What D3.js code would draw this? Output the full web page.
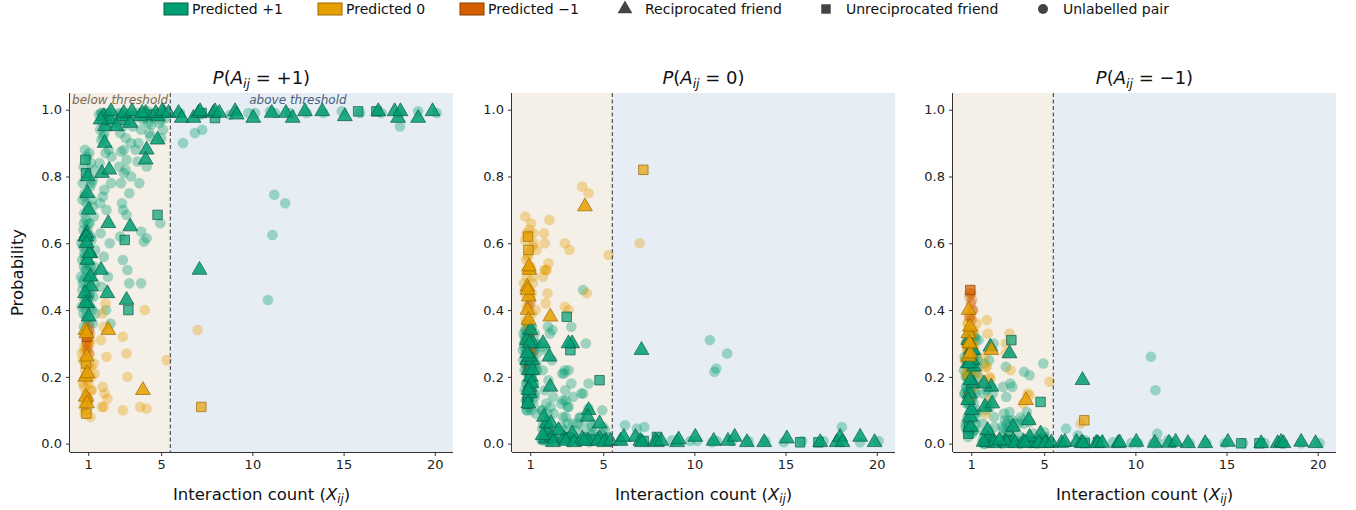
<!DOCTYPE html>
<html>
<head>
<meta charset="utf-8" />
<title>Predicted sign probabilities</title>
<script src="https://d3js.org/d3.v7.min.js"></script>
<style>
  body { margin: 0; background: #fff; }
  svg { font-family: "DejaVu Sans", sans-serif; display: block; }
</style>
</head>
<body>
<svg id="chart" width="1356" height="510"></svg>
<script>
// each pair: [interaction count (jittered), P(+1), P(0), P(-1), kind]
// kind: R = reciprocated friend, U = unreciprocated friend, N = unlabelled pair
var colOneGreen = [
  [0.82, 0.88, 0.10, 0.02, "N"], [1.05, 0.87, 0.10, 0.03, "N"], [0.93, 0.86, 0.11, 0.03, "N"],
  [0.84, 0.85, 0.12, 0.03, "U"], [1.15, 0.84, 0.12, 0.04, "N"], [0.75, 0.83, 0.13, 0.04, "N"],
  [0.88, 0.81, 0.14, 0.05, "U"], [0.97, 0.80, 0.15, 0.05, "R"], [1.25, 0.79, 0.15, 0.06, "N"],
  [0.70, 0.78, 0.16, 0.06, "N"], [1.10, 0.77, 0.16, 0.07, "N"], [0.95, 0.75, 0.17, 0.08, "R"],
  [0.80, 0.74, 0.18, 0.08, "N"], [1.20, 0.73, 0.18, 0.09, "N"], [0.90, 0.72, 0.19, 0.09, "N"],
  [1.02, 0.70, 0.20, 0.10, "R"], [0.78, 0.69, 0.18, 0.13, "N"], [1.30, 0.68, 0.22, 0.10, "N"],
  [0.86, 0.67, 0.21, 0.12, "N"], [1.08, 0.66, 0.20, 0.14, "N"], [0.74, 0.64, 0.24, 0.12, "N"],
  [0.92, 0.63, 0.22, 0.15, "R"], [0.83, 0.62, 0.25, 0.13, "R"], [1.18, 0.61, 0.23, 0.16, "N"],
  [0.98, 0.60, 0.26, 0.14, "N"], [0.72, 0.59, 0.24, 0.17, "N"], [0.88, 0.58, 0.27, 0.15, "N"],
  [1.12, 0.57, 0.25, 0.18, "R"], [0.80, 0.56, 0.28, 0.16, "N"], [0.95, 0.55, 0.26, 0.19, "R"],
  [1.04, 0.54, 0.29, 0.17, "N"], [0.76, 0.53, 0.27, 0.20, "N"], [0.90, 0.52, 0.30, 0.18, "N"],
  [1.22, 0.51, 0.28, 0.21, "N"], [0.85, 0.50, 0.31, 0.19, "N"], [1.00, 0.49, 0.29, 0.22, "N"],
  [0.70, 0.48, 0.32, 0.20, "N"], [1.15, 0.47, 0.30, 0.23, "R"], [0.93, 0.46, 0.33, 0.21, "N"],
  [0.82, 0.45, 0.31, 0.24, "R"], [1.06, 0.44, 0.34, 0.22, "N"], [0.78, 0.43, 0.32, 0.25, "N"],
  [0.97, 0.42, 0.30, 0.28, "R"], [1.10, 0.41, 0.35, 0.24, "N"], [0.87, 0.40, 0.33, 0.27, "N"],
  [0.74, 0.39, 0.31, 0.30, "N"], [1.02, 0.38, 0.34, 0.28, "R"], [0.91, 0.37, 0.32, 0.31, "N"],
  [1.25, 0.36, 0.33, 0.31, "N"], [0.84, 0.42, 0.27, 0.31, "R"], [1.13, 0.53, 0.15, 0.32, "N"],
  [0.89, 0.62, 0.12, 0.26, "R"], [0.99, 0.70, 0.12, 0.18, "N"], [0.81, 0.75, 0.10, 0.15, "N"],
  [1.07, 0.57, 0.18, 0.25, "R"], [0.94, 0.46, 0.20, 0.34, "N"], [0.76, 0.66, 0.27, 0.07, "N"],
  [1.18, 0.78, 0.18, 0.04, "N"], [0.86, 0.52, 0.36, 0.12, "N"], [1.03, 0.44, 0.24, 0.32, "N"],
  [0.62, 0.60, 0.25, 0.15, "N"], [1.38, 0.58, 0.22, 0.20, "N"], [0.66, 0.55, 0.30, 0.15, "N"],
  [1.33, 0.53, 0.24, 0.23, "N"], [0.60, 0.50, 0.28, 0.22, "N"], [1.36, 0.48, 0.27, 0.25, "N"],
  [0.68, 0.46, 0.29, 0.25, "N"], [1.28, 0.44, 0.30, 0.26, "N"], [0.64, 0.41, 0.33, 0.26, "N"],
  [1.40, 0.39, 0.30, 0.31, "N"], [0.96, 0.64, 0.20, 0.16, "N"], [1.14, 0.62, 0.26, 0.12, "N"],
  [0.79, 0.57, 0.22, 0.21, "N"], [1.01, 0.56, 0.31, 0.13, "N"], [0.87, 0.54, 0.23, 0.23, "N"],
  [1.16, 0.50, 0.24, 0.26, "N"], [0.73, 0.49, 0.34, 0.17, "N"], [0.94, 0.47, 0.25, 0.28, "N"],
  [1.09, 0.45, 0.28, 0.27, "N"], [0.83, 0.44, 0.36, 0.20, "N"], [1.21, 0.40, 0.28, 0.32, "N"],
  [0.89, 0.38, 0.30, 0.32, "N"], [1.05, 0.36, 0.35, 0.29, "N"], [0.77, 0.35, 0.34, 0.31, "N"],
  [0.99, 0.66, 0.24, 0.10, "N"], [1.24, 0.71, 0.14, 0.15, "N"], [0.69, 0.73, 0.22, 0.05, "N"],
  [1.31, 0.82, 0.09, 0.09, "N"], [0.91, 0.60, 0.16, 0.24, "R"], [1.12, 0.50, 0.22, 0.28, "R"]
];

var colOneOther = [
  [0.85, 0.34, 0.40, 0.26, "R"], [0.92, 0.26, 0.44, 0.30, "R"], [0.84, 0.20, 0.47, 0.33, "R"],
  [0.95, 0.21, 0.52, 0.27, "R"], [0.86, 0.14, 0.46, 0.40, "R"], [0.93, 0.12, 0.53, 0.35, "R"],
  [0.88, 0.24, 0.62, 0.14, "U"], [0.90, 0.09, 0.58, 0.33, "U"],
  [0.75, 0.33, 0.37, 0.30, "N"], [1.10, 0.31, 0.39, 0.30, "N"], [0.80, 0.29, 0.41, 0.30, "N"],
  [1.02, 0.27, 0.43, 0.30, "N"], [0.70, 0.25, 0.45, 0.30, "N"], [1.15, 0.23, 0.48, 0.29, "N"],
  [0.82, 0.22, 0.50, 0.28, "N"], [0.97, 0.19, 0.53, 0.28, "N"], [0.78, 0.17, 0.55, 0.28, "N"],
  [1.20, 0.16, 0.60, 0.24, "N"], [0.88, 0.15, 0.62, 0.23, "N"], [1.05, 0.13, 0.66, 0.21, "N"],
  [0.73, 0.11, 0.68, 0.21, "N"], [0.94, 0.10, 0.64, 0.26, "N"], [1.12, 0.08, 0.59, 0.33, "N"],
  [0.84, 0.12, 0.52, 0.36, "N"], [0.99, 0.18, 0.44, 0.38, "N"], [0.79, 0.28, 0.36, 0.36, "N"],
  [1.08, 0.30, 0.45, 0.25, "N"], [0.91, 0.14, 0.57, 0.29, "N"], [1.17, 0.20, 0.63, 0.17, "N"],
  [0.86, 0.24, 0.56, 0.20, "N"], [0.65, 0.27, 0.48, 0.25, "N"], [1.35, 0.21, 0.58, 0.21, "N"],
  [0.71, 0.18, 0.61, 0.21, "N"], [1.30, 0.24, 0.40, 0.36, "N"], [0.96, 0.30, 0.37, 0.33, "N"],
  [1.14, 0.16, 0.50, 0.34, "N"], [0.81, 0.09, 0.63, 0.28, "N"], [1.01, 0.23, 0.53, 0.24, "N"],
  [0.90, 0.33, 0.37, 0.30, "R"],
  [0.95, 0.32, 0.22, 0.46, "U"], [1.05, 0.34, 0.23, 0.43, "N"], [0.90, 0.30, 0.26, 0.44, "N"],
  [1.10, 0.33, 0.27, 0.40, "N"], [0.98, 0.29, 0.29, 0.42, "N"], [0.87, 0.31, 0.31, 0.38, "N"],
  [1.03, 0.35, 0.28, 0.37, "N"], [0.93, 0.28, 0.34, 0.38, "N"], [1.00, 0.13, 0.42, 0.45, "N"],
  [0.92, 0.14, 0.41, 0.45, "N"], [1.07, 0.27, 0.33, 0.40, "N"]
];

var colTwo = [
  [1.70, 0.99, 0.01, 0.00, "N"], [1.85, 0.98, 0.015, 0.005, "R"], [2.00, 0.97, 0.02, 0.01, "N"],
  [2.15, 0.99, 0.008, 0.002, "N"], [1.78, 0.96, 0.03, 0.01, "N"], [1.92, 0.95, 0.035, 0.015, "R"],
  [2.05, 0.98, 0.015, 0.005, "N"], [1.65, 0.94, 0.045, 0.015, "N"], [2.20, 0.97, 0.02, 0.01, "R"],
  [1.88, 0.93, 0.05, 0.02, "N"], [1.75, 0.99, 0.01, 0.00, "N"], [2.10, 0.96, 0.03, 0.01, "N"],
  [1.90, 0.90, 0.06, 0.04, "R"], [1.75, 0.81, 0.08, 0.11, "R"], [2.10, 0.66, 0.17, 0.17, "R"],
  [1.70, 0.52, 0.30, 0.18, "R"], [2.05, 0.45, 0.26, 0.29, "R"], [1.95, 0.87, 0.09, 0.04, "N"],
  [1.62, 0.84, 0.10, 0.06, "N"], [2.25, 0.78, 0.14, 0.08, "N"], [1.80, 0.74, 0.16, 0.10, "N"],
  [2.00, 0.70, 0.19, 0.11, "N"], [1.68, 0.63, 0.22, 0.15, "N"], [2.18, 0.60, 0.25, 0.15, "N"],
  [1.85, 0.56, 0.28, 0.16, "N"], [2.08, 0.50, 0.33, 0.17, "N"], [1.72, 0.47, 0.29, 0.24, "N"],
  [1.98, 0.40, 0.35, 0.25, "N"], [2.22, 0.36, 0.34, 0.30, "N"], [1.82, 0.92, 0.07, 0.01, "N"],
  [2.12, 0.88, 0.11, 0.01, "N"], [1.60, 0.985, 0.012, 0.003, "N"], [1.95, 0.99, 0.008, 0.002, "N"],
  [2.30, 0.975, 0.02, 0.005, "N"], [2.25, 0.995, 0.004, 0.001, "R"], [2.40, 0.96, 0.03, 0.01, "N"],
  [1.68, 0.97, 0.025, 0.005, "R"], [1.72, 0.91, 0.06, 0.03, "N"], [2.28, 0.86, 0.09, 0.05, "N"],
  [1.88, 0.76, 0.12, 0.12, "N"], [2.15, 0.82, 0.06, 0.12, "R"], [1.65, 0.72, 0.10, 0.18, "N"],
  [2.10, 0.34, 0.38, 0.28, "R"], [1.95, 0.42, 0.45, 0.13, "N"], [1.78, 0.39, 0.52, 0.09, "N"],
  [1.85, 0.35, 0.42, 0.23, "N"], [1.70, 0.31, 0.50, 0.19, "N"], [2.00, 0.26, 0.54, 0.20, "N"],
  [1.80, 0.17, 0.60, 0.23, "N"], [1.90, 0.15, 0.52, 0.33, "N"], [2.05, 0.135, 0.67, 0.195, "N"],
  [1.75, 0.11, 0.63, 0.26, "N"], [1.85, 0.11, 0.52, 0.37, "N"]
];

var colThreeToFive = [
  [2.70, 0.99, 0.01, 0.00, "N"], [2.85, 0.98, 0.015, 0.005, "R"], [3.00, 0.97, 0.02, 0.01, "U"],
  [3.15, 0.99, 0.005, 0.005, "N"], [3.30, 0.96, 0.03, 0.01, "R"], [2.90, 0.95, 0.04, 0.01, "N"],
  [3.20, 0.98, 0.015, 0.005, "N"], [2.75, 0.93, 0.05, 0.02, "N"], [3.05, 0.915, 0.06, 0.025, "N"],
  [2.80, 0.875, 0.08, 0.045, "N"], [3.10, 0.85, 0.11, 0.04, "N"], [2.95, 0.81, 0.13, 0.06, "N"],
  [3.25, 0.75, 0.18, 0.07, "N"], [2.85, 0.72, 0.21, 0.07, "N"], [3.10, 0.685, 0.22, 0.095, "N"],
  [3.30, 0.65, 0.30, 0.05, "R"], [3.00, 0.61, 0.38, 0.01, "U"], [3.20, 0.40, 0.28, 0.31, "U"],
  [3.10, 0.43, 0.30, 0.27, "R"], [2.90, 0.55, 0.22, 0.23, "N"], [3.15, 0.52, 0.30, 0.18, "N"],
  [2.75, 0.62, 0.21, 0.17, "N"], [3.25, 0.48, 0.35, 0.17, "N"], [2.80, 0.78, 0.13, 0.09, "N"],
  [3.05, 0.82, 0.11, 0.07, "N"], [2.95, 0.88, 0.08, 0.04, "N"], [3.35, 0.90, 0.06, 0.04, "N"],
  [2.65, 0.985, 0.012, 0.003, "N"], [2.95, 0.99, 0.008, 0.002, "R"], [3.10, 0.975, 0.02, 0.005, "N"],
  [3.35, 0.985, 0.012, 0.003, "N"], [3.40, 0.995, 0.004, 0.001, "R"], [3.45, 0.95, 0.04, 0.01, "N"],
  [2.55, 0.95, 0.04, 0.01, "R"], [2.70, 0.83, 0.12, 0.05, "N"], [3.35, 0.80, 0.14, 0.06, "N"],
  [2.92, 0.70, 0.16, 0.14, "N"],
  [2.90, 0.32, 0.41, 0.27, "N"], [3.10, 0.27, 0.40, 0.33, "N"], [2.90, 0.10, 0.60, 0.30, "N"],
  [3.15, 0.20, 0.58, 0.22, "N"],
  [3.70, 0.99, 0.01, 0.00, "N"], [3.85, 0.98, 0.015, 0.005, "R"], [4.00, 0.97, 0.02, 0.01, "N"],
  [4.15, 0.99, 0.008, 0.002, "R"], [4.30, 0.96, 0.03, 0.01, "N"], [3.90, 0.94, 0.05, 0.01, "N"],
  [4.20, 0.88, 0.10, 0.02, "R"], [3.70, 0.845, 0.077, 0.078, "N"], [4.20, 0.83, 0.105, 0.065, "N"],
  [3.90, 0.635, 0.15, 0.215, "N"], [4.20, 0.615, 0.18, 0.205, "N"], [4.05, 0.605, 0.30, 0.095, "N"],
  [3.90, 0.48, 0.46, 0.06, "N"], [3.75, 0.90, 0.08, 0.02, "N"], [4.35, 0.93, 0.06, 0.01, "N"],
  [3.65, 0.98, 0.015, 0.005, "N"], [3.95, 0.99, 0.008, 0.002, "R"], [4.10, 0.975, 0.02, 0.005, "N"],
  [4.25, 0.995, 0.004, 0.001, "N"], [4.40, 0.985, 0.012, 0.003, "U"], [4.45, 0.955, 0.035, 0.01, "N"],
  [3.80, 0.78, 0.15, 0.07, "N"], [3.60, 0.88, 0.06, 0.06, "N"], [4.15, 0.85, 0.08, 0.07, "R"],
  [4.10, 0.40, 0.45, 0.15, "N"], [4.00, 0.16, 0.71, 0.13, "R"], [3.85, 0.11, 0.77, 0.12, "N"],
  [4.20, 0.105, 0.75, 0.145, "N"],
  [4.60, 0.99, 0.01, 0.00, "N"], [4.80, 0.98, 0.015, 0.005, "R"], [5.00, 0.97, 0.02, 0.01, "N"],
  [5.15, 0.99, 0.008, 0.002, "R"], [4.90, 0.96, 0.03, 0.01, "N"], [4.80, 0.91, 0.06, 0.03, "R"],
  [5.00, 0.915, 0.05, 0.035, "N"], [4.80, 0.685, 0.19, 0.125, "U"], [4.95, 0.66, 0.10, 0.24, "N"],
  [5.10, 0.94, 0.04, 0.02, "N"], [4.55, 0.975, 0.02, 0.005, "N"], [4.70, 0.99, 0.008, 0.002, "R"],
  [4.95, 0.985, 0.012, 0.003, "N"], [5.05, 0.995, 0.004, 0.001, "R"], [5.25, 0.975, 0.02, 0.005, "N"],
  [5.40, 0.99, 0.008, 0.002, "R"], [4.40, 0.92, 0.05, 0.03, "N"],
  [5.30, 0.25, 0.565, 0.185, "N"]
];

var aboveThreshold = [
  [5.95, 0.99, 0.008, 0.002, "R"], [6.13, 0.975, 0.02, 0.005, "R"],
  [6.04, 0.99, 0.008, 0.002, "N"], [6.20, 0.90, 0.055, 0.045, "N"], [6.77, 0.975, 0.02, 0.005, "R"],
  [6.85, 0.93, 0.045, 0.025, "N"], [7.04, 0.99, 0.008, 0.002, "R"], [7.13, 0.995, 0.004, 0.001, "R"],
  [7.13, 0.985, 0.01, 0.005, "N"], [7.22, 0.99, 0.008, 0.002, "U"], [7.25, 0.94, 0.05, 0.01, "N"],
  [7.10, 0.52, 0.28, 0.19, "R"], [7.00, 0.34, 0.60, 0.06, "N"], [7.20, 0.11, 0.82, 0.07, "U"],
  [7.86, 0.99, 0.008, 0.002, "R"], [7.95, 0.975, 0.02, 0.005, "U"], [7.95, 0.995, 0.004, 0.001, "R"],
  [8.19, 0.99, 0.008, 0.002, "R"], [8.78, 0.985, 0.01, 0.005, "N"], [9.05, 0.995, 0.004, 0.001, "R"],
  [9.14, 0.985, 0.012, 0.003, "R"], [9.78, 0.99, 0.008, 0.002, "N"], [10.05, 0.975, 0.02, 0.005, "R"],
  [10.15, 0.99, 0.008, 0.002, "N"], [10.85, 0.43, 0.31, 0.26, "N"], [11.10, 0.625, 0.215, 0.16, "N"],
  [11.20, 0.745, 0.225, 0.03, "N"], [11.80, 0.72, 0.27, 0.01, "N"], [10.97, 0.995, 0.004, 0.001, "N"],
  [11.06, 0.99, 0.008, 0.002, "R"], [11.24, 0.99, 0.008, 0.002, "N"], [11.84, 0.99, 0.008, 0.002, "R"],
  [12.06, 0.99, 0.008, 0.002, "N"], [12.21, 0.975, 0.02, 0.005, "R"], [12.88, 0.995, 0.004, 0.001, "R"],
  [12.97, 0.99, 0.008, 0.002, "N"], [13.83, 0.995, 0.004, 0.001, "R"], [13.89, 0.99, 0.008, 0.002, "N"],
  [14.90, 0.995, 0.004, 0.001, "N"], [15.07, 0.98, 0.015, 0.005, "R"], [15.80, 0.995, 0.004, 0.001, "U"],
  [15.90, 0.99, 0.008, 0.002, "N"], [16.80, 0.995, 0.004, 0.001, "U"], [16.90, 0.995, 0.004, 0.001, "R"],
  [17.08, 0.99, 0.008, 0.002, "N"], [17.80, 0.995, 0.004, 0.001, "R"], [17.99, 0.975, 0.02, 0.005, "R"],
  [18.12, 0.995, 0.004, 0.001, "R"], [18.09, 0.95, 0.05, 0.00, "N"], [18.09, 0.99, 0.008, 0.002, "N"],
  [19.09, 0.975, 0.02, 0.005, "R"], [19.09, 0.995, 0.004, 0.001, "N"], [19.88, 0.995, 0.004, 0.001, "R"],
  [20.10, 0.99, 0.008, 0.002, "N"]
];

var classLabels = ["Predicted +1", "Predicted 0", "Predicted \u22121"];
var classColors = ["#009E73", "#E69F00", "#D55E00"];
var classEdges = ["#0a5c45", "#9a6a00", "#8a3c00"];
var kindLabels = { R: "Reciprocated friend", U: "Unreciprocated friend", N: "Unlabelled pair" };
var panelSigns = ["+1", "0", "\u22121"];
var xTicks = [1, 5, 10, 15, 20];
var yTicks = [0, 0.2, 0.4, 0.6, 0.8, 1.0];
var threshold = 5.5;

var pairs = [].concat(colOneGreen, colOneOther, colTwo, colThreeToFive, aboveThreshold).map(function (r) {
  var probs = [r[1], r[2], r[3]];
  return { x: r[0], probs: probs, kind: r[4], cls: probs.indexOf(d3.max(probs)) };
});

var svg = d3.select("#chart");
var panelLeft = [70, 512, 953], panelTop = 93, panelW = 383, panelH = 359;

var x = d3.scaleLinear().domain([0, 21]).range([0, panelW]);
var y = d3.scaleLinear().domain([-0.025, 1.05]).range([panelH, 0]);

var triangle = d3.symbol().type(d3.symbolTriangle).size(95);
var square = d3.symbol().type(d3.symbolSquare).size(90);

panelSigns.forEach(function (sign, k) {
  var g = svg.append("g").attr("transform", "translate(" + panelLeft[k] + "," + panelTop + ")");

  g.append("rect").attr("x", 0).attr("y", 0).attr("width", x(threshold)).attr("height", panelH)
    .attr("fill", "#f4efe7");
  g.append("rect").attr("x", x(threshold)).attr("y", 0).attr("width", panelW - x(threshold)).attr("height", panelH)
    .attr("fill", "#e6edf5");

  if (k === 0) {
    g.append("text").attr("x", x(2.75)).attr("y", 11).attr("text-anchor", "middle")
      .attr("font-size", 12).attr("font-style", "italic").attr("fill", "#7d6a55").text("below threshold");
    g.append("text").attr("x", x(12.5)).attr("y", 11).attr("text-anchor", "middle")
      .attr("font-size", 12).attr("font-style", "italic").attr("fill", "#4b617a").text("above threshold");
  }

  // unlabelled pairs first, grouped by predicted class
  var circles = pairs.filter(function (d) { return d.kind === "N"; })
    .sort(function (a, b) { return a.cls - b.cls; });
  g.selectAll("circle.pt").data(circles).enter().append("circle")
    .attr("class", "pt")
    .attr("cx", function (d) { return x(d.x); })
    .attr("cy", function (d) { return y(d.probs[k]); })
    .attr("r", 5.3)
    .attr("fill", function (d) { return classColors[d.cls]; })
    .attr("fill-opacity", 0.35);

  var squares = pairs.filter(function (d) { return d.kind === "U"; });
  g.selectAll("path.sq").data(squares).enter().append("path")
    .attr("class", "sq")
    .attr("d", square)
    .attr("transform", function (d) { return "translate(" + x(d.x) + "," + y(d.probs[k]) + ")"; })
    .attr("fill", function (d) { return classColors[d.cls]; })
    .attr("fill-opacity", 0.7)
    .attr("stroke", function (d) { return classEdges[d.cls]; })
    .attr("stroke-width", 0.7);

  var tris = pairs.filter(function (d) { return d.kind === "R"; })
    .sort(function (a, b) { return a.cls - b.cls; });
  g.selectAll("path.tri").data(tris).enter().append("path")
    .attr("class", "tri")
    .attr("d", triangle)
    .attr("transform", function (d) { return "translate(" + x(d.x) + "," + y(d.probs[k]) + ")"; })
    .attr("fill", function (d) { return classColors[d.cls]; })
    .attr("fill-opacity", 0.85)
    .attr("stroke", function (d) { return classEdges[d.cls]; })
    .attr("stroke-width", 0.7);

  g.append("line").attr("x1", x(threshold)).attr("x2", x(threshold)).attr("y1", 0).attr("y2", panelH)
    .attr("stroke", "#444").attr("stroke-width", 1.1).attr("stroke-dasharray", "4,2.5");

  var xAxis = g.append("g").attr("transform", "translate(0," + panelH + ")")
    .call(d3.axisBottom(x).tickValues(xTicks).tickSize(4).tickPadding(4).tickSizeOuter(0));
  var yAxis = g.append("g")
    .call(d3.axisLeft(y).tickValues(yTicks).tickFormat(d3.format(".1f")).tickSize(4).tickPadding(4).tickSizeOuter(0));
  [xAxis, yAxis].forEach(function (a) {
    a.selectAll("text").attr("font-size", 13).attr("font-family", "DejaVu Sans").attr("fill", "#222");
    a.selectAll("line").attr("stroke", "#333");
    a.select(".domain").attr("stroke", "#333").attr("stroke-width", 1);
  });
  xAxis.select(".domain").attr("d", "M0,0.5H" + panelW);
  yAxis.select(".domain").attr("d", "M-0.5,0V" + panelH);

  // title P(A_ij = sign)
  var title = g.append("text").attr("x", panelW / 2).attr("y", -9).attr("text-anchor", "middle")
    .attr("font-size", 18).attr("fill", "#111");
  title.append("tspan").attr("font-style", "italic").text("P");
  title.append("tspan").text("(");
  title.append("tspan").attr("font-style", "italic").text("A");
  title.append("tspan").attr("font-style", "italic").attr("font-size", 12.5).attr("dy", 4).text("ij");
  title.append("tspan").attr("dy", -4).text(" = " + sign + ")");

  // x label
  var xl = g.append("text").attr("x", panelW / 2).attr("y", panelH + 48).attr("text-anchor", "middle")
    .attr("font-size", 16.5).attr("fill", "#111");
  xl.append("tspan").text("Interaction count (");
  xl.append("tspan").attr("font-style", "italic").text("X");
  xl.append("tspan").attr("font-style", "italic").attr("font-size", 11.5).attr("dy", 3).text("ij");
  xl.append("tspan").attr("dy", -3).text(")");

  if (k === 0) {
    g.append("text").attr("transform", "translate(-47," + (panelH / 2) + ") rotate(-90)")
      .attr("text-anchor", "middle").attr("font-size", 16.5).attr("fill", "#111").text("Probability");
  }
});

// legend
var legend = svg.append("g").attr("font-size", 14).attr("fill", "#111");
var patchX = [164, 318, 460];
classLabels.forEach(function (lab, i) {
  legend.append("rect").attr("x", patchX[i]).attr("y", 3).attr("width", 24).attr("height", 12)
    .attr("fill", classColors[i]).attr("stroke", classEdges[i]).attr("stroke-width", 1);
  legend.append("text").attr("x", patchX[i] + 28).attr("y", 14).text(lab);
});
var markerX = [625, 826, 1043];
["R", "U", "N"].forEach(function (kind, i) {
  var m;
  if (kind === "N") {
    m = legend.append("circle").attr("cx", markerX[i]).attr("cy", 9).attr("r", 5);
  } else {
    m = legend.append("path").attr("d", kind === "R" ? triangle : square)
      .attr("transform", "translate(" + markerX[i] + ",9)");
  }
  m.attr("fill", "#444");
  legend.append("text").attr("x", markerX[i] + 20).attr("y", 14).text(kindLabels[kind]);
});
</script>
</body>
</html>
